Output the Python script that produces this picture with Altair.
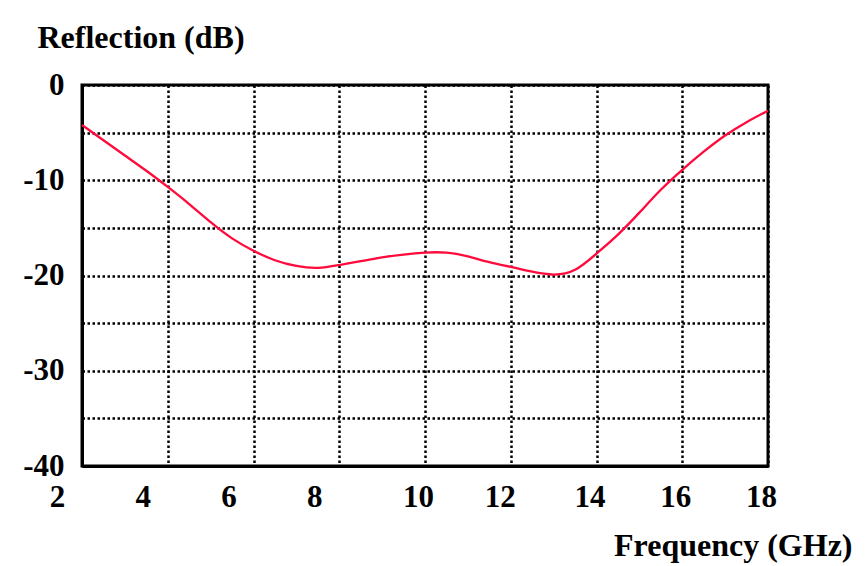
import altair as alt
import pandas as pd

freq_ghz = [2.0, 2.5, 3.0, 3.5, 4.0, 4.5, 5.0, 5.5, 6.0, 6.5, 7.0, 7.5, 8.0, 8.5,
            9.0, 9.5, 10.0, 10.5, 11.0, 11.5, 12.0, 12.5, 13.0, 13.5, 14.0, 14.5,
            15.0, 15.5, 16.0, 16.5, 17.0, 17.5, 18.0]
reflection_db = [-4.2, -5.8, -7.4, -9.0, -10.7, -12.5, -14.4, -16.1, -17.4, -18.4,
                 -19.0, -19.2, -18.9, -18.5, -18.1, -17.8, -17.6, -17.6, -18.0, -18.6,
                 -19.1, -19.6, -19.9, -19.4, -17.7, -15.7, -13.4, -11.0, -8.9, -7.0,
                 -5.3, -3.9, -2.7]
x_ticks = [2, 4, 6, 8, 10, 12, 14, 16, 18]
y_ticks = [0, -5, -10, -15, -20, -25, -30, -35, -40]

df = pd.DataFrame({"f": freq_ghz, "r": reflection_db})

FONT = "Liberation Serif"

chart = alt.Chart(df).mark_line(color="#ff0a3c", strokeWidth=2.3, interpolate="natural").encode(
    x=alt.X("f:Q", scale=alt.Scale(domain=[2, 18], nice=False, zero=False),
            axis=alt.Axis(values=x_ticks, title="Frequency (GHz)", ticks=False,
                          labelExpr="'' + datum.value",
                          labelFlush=False, labelPadding=16,
                          labelOffset={"condition": [
                              {"test": "datum.value <= 8", "value": -25},
                              {"test": "datum.value == 12", "value": -11}],
                              "value": -7},
                          titleX=770, titleY=89, titleAlign="right",
                          titleBaseline="alphabetic")),
    y=alt.Y("r:Q", scale=alt.Scale(domain=[-40, 0], nice=False),
            axis=alt.Axis(values=y_ticks, title="Reflection (dB)", ticks=False,
                          labelExpr="datum.value % 10 == 0 ? '' + datum.value : ''",
                          labelPadding=18, labelFlush=False,
                          titleAngle=0, titleX=-45, titleY=-38, titleAlign="left",
                          titleBaseline="alphabetic")),
).properties(
    width=686, height=381,
    autosize=alt.AutoSizeParams(type="none"),
    padding={"left": 82, "top": 85, "right": 98, "bottom": 100},
    background="white",
).configure_view(
    stroke="black", strokeWidth=3, fill="white"
).configure_axis(
    grid=True, gridColor="black", gridDash=[2.5, 2.5], gridWidth=2.5, gridOpacity=1,
    domainColor="black", domainWidth=3,
    labelFont=FONT, labelFontSize=31, labelFontWeight="bold", labelColor="black",
    titleFont=FONT, titleFontSize=32, titleFontWeight="bold", titleColor="black",
)

chart.save("out.html", embed_options={"renderer": "svg", "actions": False})
